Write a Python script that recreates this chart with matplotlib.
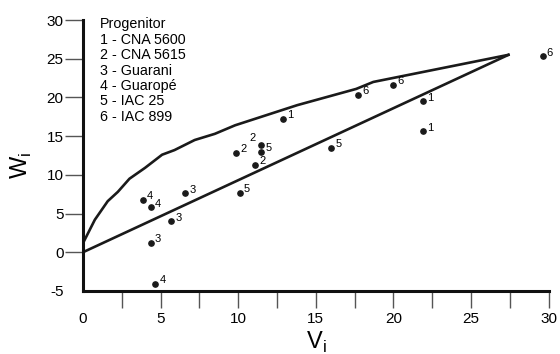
import matplotlib
matplotlib.use("Agg")
import matplotlib.pyplot as plt
import numpy as np

plt.rcParams['font.family'] = ['Liberation Sans', 'DejaVu Sans']
plt.rcParams['mathtext.fontset'] = 'custom'
plt.rcParams['mathtext.rm'] = 'Liberation Sans'
plt.rcParams['axes.unicode_minus'] = False

# points (Vi, Wi, progenitor)
vi = [12.9, 21.9, 21.9,   9.85, 11.5, 11.07,   6.57, 5.67, 4.36,
      3.87, 4.38, 4.66,   11.5, 16.0, 10.1,   17.7, 19.96, 29.6]
wi = [17.2, 19.5, 15.6,   12.85, 13.9, 11.3,   7.6, 4.0, 1.2,
      6.8, 5.8, -4.1,   13.0, 13.5, 7.7,   20.3, 21.6, 25.3]
prog = ['1', '1', '1', '2', '2', '2', '3', '3', '3',
        '4', '4', '4', '5', '5', '5', '6', '6', '6']

# limiting curve and regression line
curve_v = [0, 0.77, 1.6, 2.25, 3.0, 4.0, 5.1, 5.9, 7.2, 8.5, 9.8, 13.8, 17.6, 18.7, 27.4]
curve_w = [1.15, 4.2, 6.6, 7.8, 9.5, 10.9, 12.6, 13.2, 14.5, 15.3, 16.4, 19.0, 21.1, 22.0, 25.5]
line_v = [0, 27.4]
line_w = [0, 25.5]

legend_lines = ["Progenitor", "1 - CNA 5600", "2 - CNA 5615", "3 - Guarani",
                "4 - Guaropé", "5 - IAC 25", "6 - IAC 899"]

fig = plt.figure(figsize=(5.6, 3.54), dpi=100)
ax = fig.add_axes([0.148, 0.178, 0.832, 0.7655])

ax.plot(curve_v, curve_w, color='#1a1a1a', lw=1.9, solid_joinstyle='round')
ax.plot(line_v, line_w, color='#1a1a1a', lw=1.9)
ax.plot(vi, wi, 'o', color='#1a1a1a', ms=3.8, clip_on=False)

for x, y, p in zip(vi, wi, prog):
    if p == '2' and y > 13.5:
        ax.annotate(p, (x, y), xytext=(-9, 1), textcoords='offset points',
                    fontsize=8, va='bottom', ha='left')
    else:
        ax.annotate(p, (x, y), xytext=(3, -1), textcoords='offset points',
                    fontsize=8, va='bottom', ha='left', annotation_clip=False)

ax.set_xlim(0, 30)
ax.set_ylim(-5, 30)
for s in ['top', 'right']:
    ax.spines[s].set_visible(False)
for s in ['left', 'bottom']:
    ax.spines[s].set_linewidth(2.2)
    ax.spines[s].set_color('#111111')

xt = np.arange(0, 30.1, 2.5)
ax.set_xticks(xt)
ax.set_xticklabels([str(int(t)) if t % 5 == 0 else '' for t in xt])
ax.xaxis.get_major_ticks()[0].tick1line.set_visible(False)
ax.set_yticks(np.arange(-5, 30.1, 5))
ax.yaxis.get_major_ticks()[0].tick1line.set_visible(False)
ax.tick_params(axis='x', direction='out', length=12, width=1.0, color='#555555',
               labelsize=11, pad=3)
ax.tick_params(axis='y', direction='out', length=13, width=1.0, color='#555555',
               labelsize=11, pad=1)

ax.text(-0.131, 0.465, r'W$_\mathregular{i}$', transform=ax.transAxes, rotation=90,
        fontsize=17, ha='center', va='center')
ax.text(0.502, -0.19, r'V$_\mathregular{i}$', transform=ax.transAxes,
        fontsize=17, ha='center', va='center')

ax.text(0.036, 1.01, "\n".join(legend_lines), transform=ax.transAxes,
        fontsize=10.3, va='top', ha='left', linespacing=1.13)

fig.savefig('out.png', dpi=100)
